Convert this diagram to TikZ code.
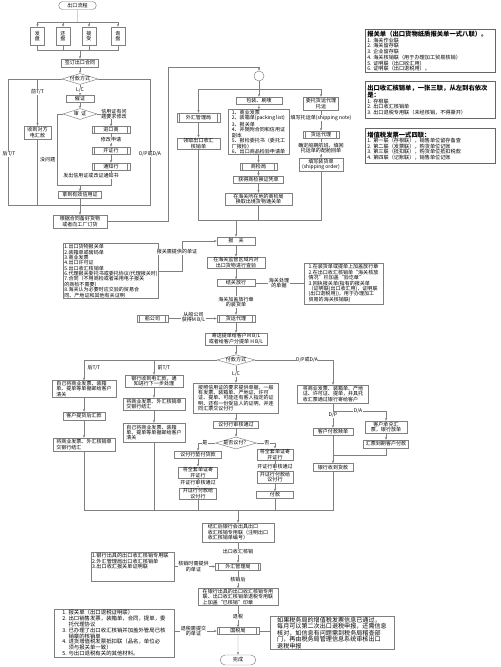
\documentclass[tikz,border=0pt]{standalone}
\usepackage{fontspec}
\setmainfont{Noto Sans CJK SC}
\usetikzlibrary{shapes.geometric, shapes.misc, arrows.meta, positioning}

\tikzset{
  every node/.style={font=\fontsize{4.3}{4.6}\selectfont, inner sep=0.6pt},
  ln/.style={draw=black!50, line width=0.4pt},
  arr/.style={ln, -{Stealth[length=2.4pt, width=2pt]}},
  sz/.style 2 args={minimum width=#1*0.03cm, minimum height=#2*0.03cm},
  box/.style={ln, fill=white, align=center},
  lbox/.style={ln, fill=white, align=left},
  pbox/.style={box, path picture={
      \draw[black!50, line width=0.4pt]
        ([xshift=2.2pt]path picture bounding box.north west) -- ([xshift=2.2pt]path picture bounding box.south west)
        ([xshift=-2.2pt]path picture bounding box.north east) -- ([xshift=-2.2pt]path picture bounding box.south east);}},
  dec/.style={ln, fill=white, diamond, aspect=3.4, inner sep=0pt},
  term/.style={ln, fill=white, rounded rectangle},
  lbl/.style={fill=white, inner sep=0.4pt, align=center},
  note/.style={draw=black!60, line width=0.7pt, align=left, anchor=north west,
    inner sep=1.6pt, text width=3.8cm, font=\fontsize{4.4}{4.7}\selectfont},
  ntitle/.style={font=\fontsize{5.4}{6}\selectfont\bfseries},
}

\begin{document}
\begin{tikzpicture}[x=0.03cm, y=-0.03cm]
\useasboundingbox (0,0) rectangle (500,667);

% 签约
\node[term, sz={39}{8}] (start) at (77.5,5.5) {出口流程};
\node[box, sz={14}{18}] (fp) at (37.5,36) {发\\盘};
\node[box, sz={14}{18}] (hp) at (63,36) {还\\盘};
\node[box, sz={14}{18}] (js) at (89,36) {接\\受};
\node[box, sz={14}{18}] (xp) at (118,36) {询\\盘};
\node[box, sz={37}{8}] (ht) at (80,63) {签订出口合同};
\node[dec, sz={36}{11}] (fk) at (80,79) {付款方式};
\coordinate (tj) at (77.5,22);
\coordinate (bj0) at (80,50);
\draw[ln] (start) -- (tj);
\foreach \n in {fp,hp,js,xp} \draw[arr] (tj) -| (\n.north);
\foreach \n in {fp,xp} \draw[ln] (\n.south) |- (bj0);
\foreach \n in {hp,js} \draw[ln] (\n.south) -- (\n.south |- bj0);
\draw[arr] (bj0) -- (ht);
\draw[arr] (ht) -- (fk);

% 付款方式：T/T, L/C, D/P
\node[box, sz={27}{13}] (dhk) at (37.5,132.5) {收到对方\\电汇款};
\node[box, sz={28}{7}] (cz) at (80,99) {催证};
\node[dec, sz={34}{11}] (shz) at (80,114) {审\ \ 证};
\node[pbox, sz={38}{7}] (jks) at (111,130) {进口商};
\node[pbox, sz={38}{7}] (kzh) at (111,150.5) {开证行};
\node[pbox, sz={38}{7}] (tzh) at (111,166.5) {通知行};
\node[box, sz={43}{7}] (yxz) at (80,195) {拿到有效信用证};
\node[box, sz={54}{13}] (bh) at (80,221.5) {根据合同备好货物\\或者向工厂订货};
\coordinate (ttl) at (8,205);
\coordinate (hj) at (80,205);
\coordinate (dpr) at (150,205);
\coordinate (yj) at (80,185);
\coordinate (mw) at (57,185);
\draw[ln] (fk.west) -| (ttl) -- (hj);
\draw[arr] (fk.west) -| (dhk.north);
\draw[ln] (dhk.south) |- (hj);
\draw[ln] (fk.east) -| (dpr) -- (hj);
\draw[arr] (fk.south) -- (cz.north);
\draw[arr] (cz) -- (shz);
\draw[arr] (shz.east) -| (jks.north);
\draw[arr] (jks) -- (kzh);
\draw[arr] (kzh) -- (tzh);
\draw[ln] (tzh.south) |- (yj);
\draw[ln] (shz.west) -| (mw) -- (yj);
\draw[arr] (yj) -- (yxz);
\draw[ln] (yxz) -- (hj);
\draw[arr] (hj) -- (bh);
\node[lbl] (lqt) at (37.5,92) {前T/T};
\node[lbl] (lht) at (9,154) {后T/T};
\node[lbl] (ldp) at (150,154) {D/P或D/A};
\node[lbl] (llc) at (80,90) {L/C};
\node[lbl] (lwt) at (114,114) {信用证有问\\题要求修改};
\node[lbl] (lxg) at (111,140) {修改申请};
\node[lbl, anchor=east] (lmw) at (56,160) {没问题};
\node[lbl] (ltz) at (91,176) {发出信用证或改证通知书};

% 备货后
\node[ln, circle, minimum size=10*0.03cm, inner sep=0pt] (yq) at (259,76) {};
\coordinate (bhr) at (168,67);
\draw[arr] (bh.east) -| (bhr) -| (yq.north);
\coordinate (yqj) at (259,89);
\node[pbox, sz={43}{9}] (whj) at (198.5,117.5) {外汇管理局};
\node[box, sz={43}{11}] (lq) at (198.5,143.5) {领取出口收汇\\核销单};
\node[box, sz={46}{7}] (bz) at (259,100.5) {包装、刷唛};
\node[lbox, sz={61}{44}] (dj) at (258.5,132) {1、商业发票\\2、装箱单(packing list)\\3、报关单\\4、并随附合同和信用证\\副本\\5、报检委托书（委托工\\厂报检）\\6、出口商品检验申请单};
\node[pbox, sz={37}{7}] (sjj) at (258.5,166.5) {商检局};
\node[box, sz={50}{7}] (hdsj) at (258.5,179.5) {获得商检换证凭单};
\node[box, sz={67}{12}] (tgd) at (258.5,199) {在海关所在地的商检局\\换取出境货物通关单};
\node[box, sz={35}{13}] (wt) at (321,103.5) {委托货运代理\\托运};
\node[pbox, sz={36}{7}] (hy) at (321,134.5) {货运代理};
\node[box, sz={44}{13}] (zhd) at (321,164.5) {填写装货单\\(shipping order)};
\draw[ln] (yq.south) -- (yqj);
\draw[arr] (yqj) -| (whj.north);
\draw[arr] (yqj) -- (bz.north);
\draw[arr] (yqj) -| (wt.north);
\draw[arr] (whj) -- (lq);
\draw[arr] (bz) -- (dj);
\draw[arr] (dj) -- (sjj);
\draw[arr] (sjj) -- (hdsj);
\draw[arr] (hdsj) -- (tgd);
\draw[arr] (wt) -- (hy);
\draw[arr] (hy) -- (zhd);
\node[lbl] (ltyd) at (321,118) {填写托运单(shipping note)};
\node[lbl] (lqd) at (321,148) {确定船期航班、填回\\托运单的配舱回单};

% 报关
\coordinate (bgj) at (236,220);
\node[box, sz={38}{8}] (bg) at (236,241) {报\quad 关};
\draw[ln] (lq.south) |- (bgj);
\draw[ln] (zhd.south) |- (bgj);
\draw[ln] (tgd.south) -- (tgd.south |- bgj);
\draw[arr] (bgj) -- (bg);
\node[lbox, sz={92}{54}] (bgd) at (111,271) {1.出口货物报关单\\2.装箱单或磅码单\\3.商业发票\\4.出口许可证\\5.出口收汇核销单\\6.代理报关委托书或委托协议(代理报关时)\\7.合同（不用商检或者采用电子报关\\的商检不需要）\\8.海关认为必要时应交验的贸易合\\同、产地证和其他有关证明};
\coordinate (bgc) at (182,271);
\draw[arr] (bgd.east) -- (bgc) |- (bg.west);
\node[lbl] (lbgd) at (177,252) {报关需提供的单证};
\node[box, sz={58}{11}] (cy) at (236,262.5) {在海关监管区域内对\\出口货物进行查验};
\node[box, sz={38}{7}] (jgfx) at (236,283) {结关放行};
\node[lbox, sz={79}{41}] (hgd) at (343.5,283.5) {1.在装货单或提单上加盖放行章\\2.在出口收汇核销单“海关核放\\情况”栏加盖“验讫章”\\3.回执报关单(指有的报关单\\（证明联(出口收汇用)，证明联\\(出口退税用))，用于办理加工\\贸易的海关核销联)};
\draw[arr] (bg) -- (cy);
\draw[arr] (cy) -- (jgfx);
\draw[ln] (jgfx.east) -- (jgfx.east -| hgd.west);
\node[lbl] (lcl) at (279,283) {海关处理\\的单据};
\node[pbox, sz={38}{7}] (hydl) at (236,318.5) {货运代理};
\draw[arr] (jgfx) -- (hydl);
\node[lbl] (lfx) at (236,302) {海关加盖放行章\\的装货单};
\node[pbox, sz={31}{7}] (cgs) at (152.5,318.5) {船公司};
\draw[arr] (cgs) -- (hydl);
\node[lbl] (lmbl) at (193.5,317.5) {从船公司\\获得M B/L};
\node[box, sz={62}{12}] (td) at (236,339) {寄送提单给客户M B/L\\或者给客户分提单 H B/L};
\draw[arr] (hydl) -- (td);
\node[dec, sz={38}{9}] (fk2) at (236,360) {付款方式};
\draw[arr] (td) -- (fk2);

% 结汇：T/T
\node[lbox, sz={64}{16}] (hx1) at (84,389) {自己将商业发票、装箱\\单、提单等单据邮给客户\\清关};
\node[box, sz={42}{8}] (hx2) at (84,416) {客户提货后汇款};
\node[lbox, sz={62}{13}] (hx3) at (84,444.5) {将商业发票、外汇核销单\\交银行结汇};
\node[box, sz={58}{12}] (qx1) at (154,381) {银行收到电汇款，通\\知进行下一步处理};
\node[lbox, sz={62}{12}] (qx2) at (154,404) {将商业发票、外汇核销单\\交银行结汇};
\node[lbox, sz={62}{19}] (qx3) at (154,432.5) {自己将商业发票、装箱\\单、提单等单据邮给客户\\清关};
\draw[arr] (fk2.west) -| (hx1.north);
\draw[arr] (fk2.west) -| (qx1.north);
\draw[arr] (hx1) -- (hx2);
\draw[arr] (hx2) -- (hx3);
\draw[arr] (qx1) -- (qx2);
\draw[arr] (qx2) -- (qx3);
\node[lbl, anchor=west] (lht2) at (87,368) {后T/T};
\node[lbl, anchor=west] (lqt2) at (157,368) {前T/T};

% 结汇：L/C
\node[lbox, sz={85}{30}] (lc1) at (236,398) {按照信用证的要求提供单据，一般\\有发票、装箱单、产地证、许可\\证、提单、可能还有客人指定的证\\明、还有一份受益人的证明，并连\\同汇票交议付行};
\node[box, sz={45}{7}] (ysh) at (236,424.5) {议付行审核通过};
\node[dec, sz={38}{10}] (sfyf) at (236,443) {是否议付？};
\draw[arr] (fk2.south) -- (lc1.north);
\draw[arr] (lc1) -- (ysh);
\draw[arr] (ysh) -- (sfyf);
\node[box, sz={47}{7}] (dfk) at (198,454.5) {议付行垫付货款};
\node[box, sz={39}{11}] (jd1) at (198,472.5) {将全套单证寄\\开证行};
\node[box, sz={37}{11}] (fk3) at (198,493.5) {开证行付款给\\议付行};
\node[box, sz={36}{10}] (jd2) at (275,454.5) {将全套单证寄\\开证行};
\node[box, sz={36}{10}] (fk4) at (275,477) {开证行付款给\\议付行};
\node[box, sz={37}{7}] (fkr) at (275,495) {付款};
\draw[arr] (sfyf.west) -| (dfk.north);
\draw[arr] (dfk) -- (jd1);
\draw[arr] (jd1) -- (fk3);
\draw[arr] (sfyf.east) -| (jd2.north);
\draw[arr] (jd2) -- (fk4);
\draw[arr] (fk4) -- (fkr);
\node[lbl] (llc2) at (236,374) {L/C};
\node[lbl] (lyes) at (205,443) {是};
\node[lbl] (lno) at (267,443) {否};
\node[lbl] (lsh1) at (198,483) {开证行审核通过};
\node[lbl] (lsh2) at (275,466.5) {开证行审核通过};

% 结汇：D/P, D/A
\node[lbox, sz={71}{18}] (dp1) at (333,394) {将商业发票、装箱单、产地\\证、许可证、提单，并具托\\收汇票通过银行寄给客户};
\coordinate (dab) at (333,411);
\node[box, sz={40}{7}] (dp2) at (333,431.5) {客户付款赎单};
\node[box, sz={42}{12}] (da1) at (386,427) {客户承兑汇\\票，银行放单};
\node[box, sz={45}{8}] (da2) at (386,444) {汇票到期客户付款};
\coordinate (dpj) at (333,455);
\node[box, sz={40}{8}] (yhs) at (333,467.5) {银行收到货款};
\draw[arr] (fk2.east) -| (dp1.north);
\draw[arr] (dp1) -- (dp2);
\draw[arr] (dab) -| (da1.north);
\draw[arr] (da1) -- (da2);
\draw[ln] (da2.south) |- (dpj);
\draw[ln] (dp2) -- (dpj);
\draw[arr] (dpj) -- (yhs);
\node[lbl] (ldp2) at (307,360) {D/P或D/A};
\node[lbl] (ldp3) at (333,415) {D/P};
\node[lbl] (lda) at (358,411) {D/A};

% 核销、退税
\coordinate (jhj) at (238,510);
\foreach \n in {hx3,qx3,fk3,fkr,yhs} \draw[ln] (\n.south) |- (jhj);
\node[lbox, sz={72}{19}] (jh) at (238,532.5) {结汇后银行会出具出口\\收汇核销专用联（注明出口\\收汇核销单编号）};
\draw[arr] (jhj) -- (jh);
\node[pbox, sz={45}{7}] (wh2) at (238,566.5) {外汇管理局};
\draw[arr] (jh) -- (wh2);
\node[lbl] (lsh) at (238,552) {出口收汇核销};
\node[lbox, inner sep=1pt, font=\fontsize{4.4}{4.8}\selectfont] (hxd) at (132.5,566.5)
  {\parbox[c][0.8cm][t]{2.42cm}{1.银行出具的出口收汇核销专用联\\2.外汇管理局出口收汇核销单\\3.出口收汇报关单证明联}};
\draw[arr] (hxd) -- (wh2);
\node[lbl] (lhxs) at (193.5,566.5) {核销时需提供\\的单证};
\node[lbox, sz={80}{16}] (yhx) at (238,597) {在银行出具的出口收汇核销专用\\联、出口收汇核销单退税专用联\\上加盖“已核销”印章};
\draw[arr] (wh2) -- (yhx);
\node[lbl] (lhxh) at (238,580) {核销后};
\node[pbox, sz={42}{7}] (gsj) at (238,631) {国税局};
\draw[arr] (yhx) -- (gsj);
\node[lbl] (lts) at (238,617) {退税};
\node[lbox, sz={120}{48}, font=\fontsize{4.6}{5}\selectfont] (tsd) at (114,633) {1. 报关单（出口退税证明联）\\2. 出口销售发票，装箱单，合同，提单，委\\\phantom{2. }托代理协议\\3. 已办理了出口收汇核销并加盖外管局已核\\\phantom{3. }销章的核销单\\4. 进货增值税发票抵扣联（品名，单位必\\\phantom{4. }须与报关单一致）\\5. 与出口退税有关的其他材料。};
\draw[arr] (tsd.east |- gsj.west) -- (gsj.west);
\node[lbl] (ltsd) at (193.5,631) {退税需提交\\的单证};
\node[lbox, sz={124}{32}, font=\fontsize{5.2}{5.5}\selectfont] (rtb) at (332,633) {如果税务局的增值税发票信息已通过，\\每月可以第二次出口退税申报，还需信息\\核对，如信息有问题需到税务局稽查部\\门，再由税务局管理信息系统审核出口\\退税申报};
\draw[ln] (gsj.east) -- (gsj.east -| rtb.west);
\node[term, sz={37}{10}] (wc) at (238,660) {完成};
\draw[arr] (gsj) -- (wc);

% 单据说明
\node[note, minimum height=1.26cm] (n1) at (365,29) {{\fontsize{5.4}{6}\selectfont\bfseries 报关单（出口货物纸质报关单一式八联）。}\\1.\ 海关作业联\\2.\ 海关留存联\\3.\ 企业留存联\\[0.6pt]4.\ 海关核销联（用于办理加工贸易核销）\\5.\ 证明联（出口收汇用）\\6.\ 证明联（出口退税用）。};
\node[note, minimum height=1.11cm] (n2) at (365,81) {{\fontsize{5.4}{6}\selectfont\bfseries 出口收汇核销单，一张三联，从左到右依次}\\{\fontsize{5.4}{6}\selectfont\bfseries 是：}\\1.\ 存根联\\2.\ 出口收汇核销单\\3.\ 出口退税专用联（未经核销，不得撕开）};
\node[note, minimum height=1.05cm] (n3) at (365,128) {{\fontsize{5.4}{6}\selectfont\bfseries 增值税发票一式四联：}\\1.\ 第一联（存根联），销售单位留存备查\\2.\ 第二联（发票联），购货单位记账\\3.\ 第三联（抵扣联），购货单位抵扣税款\\4.\ 第四联（记账联），销售单位记账};
\end{tikzpicture}
\end{document}
